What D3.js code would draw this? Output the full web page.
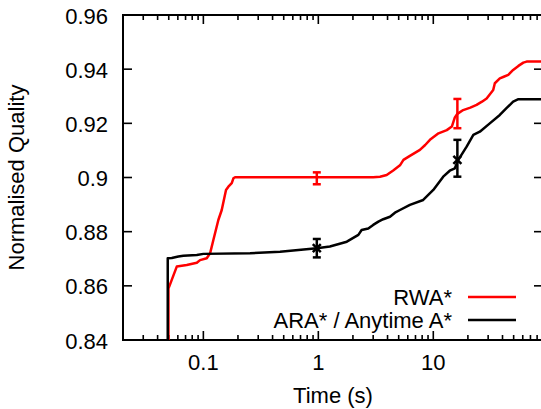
<!DOCTYPE html>
<html>
<head>
<meta charset="utf-8">
<script src="https://cdn.jsdelivr.net/npm/d3@7"></script>
<style>
  body { margin: 0; background: #fff; }
  text { font-family: "Liberation Sans", Arial, sans-serif; fill: #000; }
</style>
</head>
<body>
<svg id="chart"></svg>
<script>
// data
var seriesNames = ["RWA*", "ARA* / Anytime A*"];
var seriesColors = ["#ff0000", "#000000"];

var rwaTime = [0.0497, 0.0497, 0.0531, 0.0587, 0.0717, 0.0877, 0.0936, 0.107, 0.1144, 0.1222, 0.135, 0.1445, 0.1574, 0.165, 0.1766, 0.1825, 0.1887,
  3.0, 3.44, 3.93, 4.48, 5.13, 5.5, 6.26, 7.65, 8.5, 9.35, 11.1, 13.1, 14.5, 15.4, 16.2, 18.2, 21.0, 23.8, 26.5, 29.1, 33.2, 34.3, 37.9, 41.0, 44.9, 49.5, 55.0, 60.7, 64.8, 90];
var rwaQuality = [0.838, 0.859, 0.8622, 0.8671, 0.8677, 0.8685, 0.8695, 0.8702, 0.8720, 0.8769, 0.8843, 0.8880, 0.8954, 0.8966, 0.8979, 0.8997, 0.9001,
  0.9001, 0.9003, 0.9009, 0.9026, 0.9045, 0.9065, 0.9080, 0.9102, 0.9120, 0.9139, 0.9163, 0.9175, 0.9188, 0.9222, 0.9235, 0.9249, 0.9258, 0.9268, 0.9280, 0.9292, 0.9323, 0.9348, 0.9366, 0.9372, 0.9379, 0.9397, 0.9412, 0.9424, 0.9428, 0.9428];

var araTime = [0.049, 0.049, 0.0531, 0.0606, 0.067, 0.0877, 0.1, 0.2547, 0.4645, 0.97, 1.26, 1.77, 2.23, 2.38, 2.72, 3.0, 3.33, 3.67, 4.2, 4.64, 5.13, 6.26, 8.17, 10.0, 12.2, 13.9, 15.4, 16.5, 19.5, 22.3, 25.4, 31.0, 37.9, 43.3, 49.5, 55.0, 90];
var araQuality = [0.838, 0.8702, 0.8703, 0.8708, 0.8711, 0.8714, 0.8718, 0.8720, 0.8726, 0.8739, 0.8745, 0.8763, 0.8788, 0.8806, 0.8812, 0.8825, 0.8837, 0.8846, 0.8855, 0.8870, 0.8880, 0.8899, 0.8917, 0.8954, 0.9003, 0.9025, 0.9034, 0.9065, 0.9114, 0.9157, 0.9169, 0.9200, 0.9231, 0.9256, 0.9280, 0.9289, 0.9289];

// error bars
var rwaErrTime = [0.97, 16.2];
var rwaErrLow = [0.8975, 0.9182];
var rwaErrHigh = [0.9019, 0.9290];
var araErrTime = [0.97, 16.2];
var araErrMid = [0.8739, 0.9065];
var araErrLow = [0.8705, 0.9003];
var araErrHigh = [0.8773, 0.9139];

var xTickValues = [0.1, 1, 10];
var xTickLabels = ["0.1", "1", "10"];
var yTickValues = [0.84, 0.86, 0.88, 0.9, 0.92, 0.94, 0.96];
var yTickLabels = ["0.84", "0.86", "0.88", "0.9", "0.92", "0.94", "0.96"];

var size = { width: 541, height: 409 };
var plot = { left: 123, top: 15, right: 543, bottom: 340 };

var svg = d3.select("#chart")
  .attr("width", size.width)
  .attr("height", size.height);

var x = d3.scaleLog()
  .domain([0.02, 90])
  .range([plot.left, plot.right]);

var y = d3.scaleLinear()
  .domain([0.84, 0.96])
  .range([plot.bottom, plot.top]);

// minor ticks for the log axis
var minorTicks = [];
[0.01, 0.1, 1, 10].forEach(function(dec){
  for (var k = 2; k <= 9; k++) {
    var v = dec * k;
    if (v > 0.02 && v < 90) minorTicks.push(v);
  }
});

var axisG = svg.append("g").attr("class", "axes");

// x ticks, bottom and top (inward)
minorTicks.forEach(function(v){
  axisG.append("line").attr("x1", x(v)).attr("x2", x(v)).attr("y1", plot.bottom).attr("y2", plot.bottom - 5);
  axisG.append("line").attr("x1", x(v)).attr("x2", x(v)).attr("y1", plot.top).attr("y2", plot.top + 5);
});
xTickValues.forEach(function(v, i){
  axisG.append("line").attr("x1", x(v)).attr("x2", x(v)).attr("y1", plot.bottom).attr("y2", plot.bottom - 9);
  axisG.append("line").attr("x1", x(v)).attr("x2", x(v)).attr("y1", plot.top).attr("y2", plot.top + 9);
  svg.append("text")
    .attr("x", x(v))
    .attr("y", 370)
    .attr("text-anchor", "middle")
    .style("font-size", "22px")
    .text(xTickLabels[i]);
});

// y ticks, left and right (inward)
yTickValues.forEach(function(v, i){
  axisG.append("line").attr("x1", plot.left).attr("x2", plot.left + 9).attr("y1", y(v)).attr("y2", y(v));
  axisG.append("line").attr("x1", plot.right).attr("x2", plot.right - 9).attr("y1", y(v)).attr("y2", y(v));
  svg.append("text")
    .attr("x", 108)
    .attr("y", y(v) + 8.5)
    .attr("text-anchor", "end")
    .style("font-size", "22px")
    .text(yTickLabels[i]);
});

axisG.selectAll("line")
  .attr("stroke", "#000")
  .attr("stroke-width", 1.6);

axisG.append("rect")
  .attr("x", plot.left)
  .attr("y", plot.top)
  .attr("width", plot.right - plot.left)
  .attr("height", plot.bottom - plot.top)
  .attr("fill", "none")
  .attr("stroke", "#000")
  .attr("stroke-width", 2);

// axis titles
svg.append("text")
  .attr("transform", "translate(24," + ((plot.top + plot.bottom) / 2) + ") rotate(-90)")
  .attr("text-anchor", "middle")
  .style("font-size", "22px")
  .text("Normalised Quality");

svg.append("text")
  .attr("x", 333)
  .attr("y", 403)
  .attr("text-anchor", "middle")
  .style("font-size", "22px")
  .text("Time (s)");

// clip
svg.append("clipPath").attr("id", "clip")
  .append("rect")
  .attr("x", plot.left).attr("y", plot.top)
  .attr("width", plot.right - plot.left).attr("height", plot.bottom - plot.top);

var line = d3.line()
  .x(function(d){ return x(d[0]); })
  .y(function(d){ return y(d[1]); });

var lines = [d3.zip(rwaTime, rwaQuality), d3.zip(araTime, araQuality)];

var plotG = svg.append("g").attr("clip-path", "url(#clip)");

lines.forEach(function(data, i){
  plotG.append("path")
    .datum(data)
    .attr("d", line)
    .attr("fill", "none")
    .attr("stroke", seriesColors[i])
    .attr("stroke-width", 2.5)
    .attr("stroke-linejoin", "round");
});

// error bars
function errorBar(t, lo, hi, color){
  var g = plotG.append("g").attr("stroke", color).attr("stroke-width", 2.5);
  g.append("line").attr("x1", x(t)).attr("x2", x(t)).attr("y1", y(lo)).attr("y2", y(hi));
  g.append("line").attr("x1", x(t) - 4).attr("x2", x(t) + 4).attr("y1", y(lo)).attr("y2", y(lo));
  g.append("line").attr("x1", x(t) - 4).attr("x2", x(t) + 4).attr("y1", y(hi)).attr("y2", y(hi));
}

rwaErrTime.forEach(function(t, i){
  errorBar(t, rwaErrLow[i], rwaErrHigh[i], seriesColors[0]);
});
araErrTime.forEach(function(t, i){
  errorBar(t, araErrLow[i], araErrHigh[i], seriesColors[1]);
  var cx = x(t), cy = y(araErrMid[i]);
  plotG.append("path")
    .attr("d", "M" + (cx - 4) + "," + (cy - 4) + "L" + (cx + 4) + "," + (cy + 4) + "M" + (cx - 4) + "," + (cy + 4) + "L" + (cx + 4) + "," + (cy - 4))
    .attr("stroke", seriesColors[1])
    .attr("stroke-width", 2.5);
});

// legend
var legendY = [297, 320];
seriesNames.forEach(function(name, i){
  svg.append("text")
    .attr("x", 452)
    .attr("y", legendY[i] + 7.5)
    .attr("text-anchor", "end")
    .style("font-size", "22px")
    .text(name);
  svg.append("line")
    .attr("x1", 468).attr("x2", 516)
    .attr("y1", legendY[i]).attr("y2", legendY[i])
    .attr("stroke", seriesColors[i])
    .attr("stroke-width", 2.5);
});
</script>
</body>
</html>
